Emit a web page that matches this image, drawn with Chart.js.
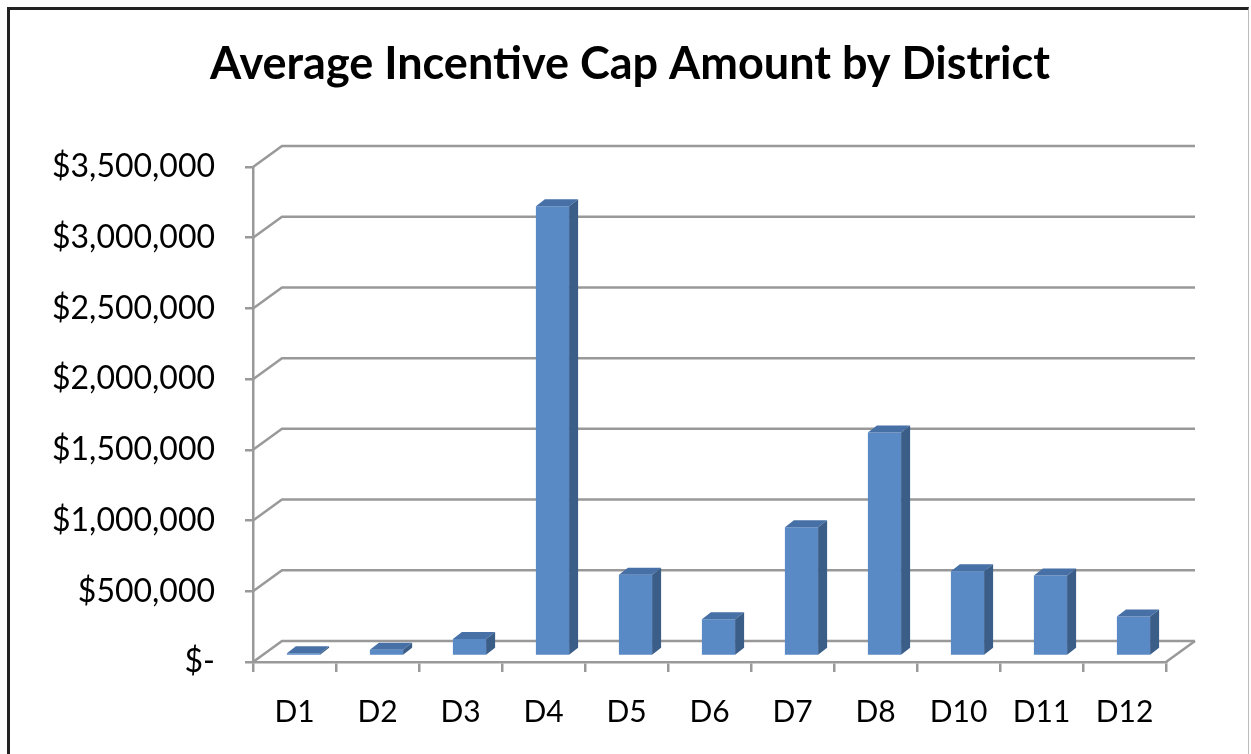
<!DOCTYPE html>
<html lang="en">
<head>
  <meta charset="UTF-8">
  <title>Average Incentive Cap Amount by District</title>
  <script src="https://cdn.jsdelivr.net/npm/chart.js"></script>
  <style>
    html, body { margin: 0; padding: 0; background: #fff; overflow: hidden; }
    #wrap { position: relative; width: 1251px; height: 754px; }
    #frame {
      position: absolute; left: 7px; top: 7px; width: 1242px; height: 760px;
      border-left: 3px solid #222; border-top: 3px solid #222; border-right: 1px solid #bbb;
      box-sizing: border-box; pointer-events: none;
    }
  </style>
</head>
<body>
  <div id="wrap">
    <canvas id="capChart" width="1251" height="754"></canvas>
    <div id="frame"></div>
  </div>

  <script>
    const districts = ['D1', 'D2', 'D3', 'D4', 'D5', 'D6', 'D7', 'D8', 'D10', 'D11', 'D12'];
    const avgCap = [20000, 45000, 120000, 3180000, 575000, 260000, 910000, 1580000, 600000, 570000, 280000];
    const yTicks = [0, 500000, 1000000, 1500000, 2000000, 2500000, 3000000, 3500000];

    // depth of the back wall and of the bars (px)
    const WALL = { dx: 29, dy: -21 };
    const BAR_OFF = { dx: 9, dy: -6 };
    const BAR_DEPTH = { dx: 9, dy: -7 };

    function money(v) {
      if (v === 0) return '$-';
      return '$' + v.toLocaleString('en-US');
    }

    const fake3d = {
      id: 'fake3d',
      beforeDatasetsDraw(chart) {
        const ctx = chart.ctx;
        const y = chart.scales.y;
        const area = chart.chartArea;
        ctx.save();
        ctx.strokeStyle = '#999';
        ctx.lineWidth = 2.5;
        yTicks.forEach(v => {
          const py = y.getPixelForValue(v);
          ctx.beginPath();
          ctx.moveTo(area.left, py);
          ctx.lineTo(area.left + WALL.dx, py + WALL.dy);
          ctx.lineTo(area.right + WALL.dx, py + WALL.dy);
          ctx.stroke();
        });
        // floor right edge
        const p0 = y.getPixelForValue(0);
        ctx.beginPath();
        ctx.moveTo(area.right, p0);
        ctx.lineTo(area.right + WALL.dx, p0 + WALL.dy);
        ctx.stroke();
        ctx.restore();

        ctx.save();
        ctx.translate(BAR_OFF.dx, BAR_OFF.dy);
      },
      afterDatasetsDraw(chart) {
        const ctx = chart.ctx;
        const bars = chart.getDatasetMeta(0).data;
        bars.forEach(b => {
          const l = b.x - b.width / 2, r = b.x + b.width / 2;
          const t = b.y, btm = b.base;
          // top face
          ctx.fillStyle = '#4670a6';
          ctx.beginPath();
          ctx.moveTo(l, t);
          ctx.lineTo(l + BAR_DEPTH.dx, t + BAR_DEPTH.dy);
          ctx.lineTo(r + BAR_DEPTH.dx, t + BAR_DEPTH.dy);
          ctx.lineTo(r, t);
          ctx.closePath();
          ctx.fill();
          // side face
          ctx.fillStyle = '#3b5e89';
          ctx.beginPath();
          ctx.moveTo(r, t);
          ctx.lineTo(r + BAR_DEPTH.dx, t + BAR_DEPTH.dy);
          ctx.lineTo(r + BAR_DEPTH.dx, btm + BAR_DEPTH.dy);
          ctx.lineTo(r, btm);
          ctx.closePath();
          ctx.fill();
        });
        ctx.restore();
      }
    };

    const ctx = document.getElementById('capChart').getContext('2d');
    new Chart(ctx, {
      type: 'bar',
      data: {
        labels: districts,
        datasets: [{
          label: 'Average Incentive Cap',
          data: avgCap,
          backgroundColor: '#5a8ac6',
          borderWidth: 0,
          categoryPercentage: 1,
          barPercentage: 0.4
        }]
      },
      options: {
        responsive: false,
        animation: false,
        events: [],
        layout: { padding: { left: 9, right: 0, top: 0, bottom: 0 } },
        plugins: {
          legend: { display: false },
          tooltip: { enabled: false },
          title: {
            display: true,
            text: 'Average Incentive Cap Amount by District',
            color: '#000',
            font: { family: 'Lato', size: 45, weight: 'bold' },
            padding: { top: 37, bottom: 76 }
          }
        },
        scales: {
          x: {
            grid: {
              offset: true,
              drawOnChartArea: false,
              tickLength: 10,
              color: '#999',
              lineWidth: 2.5
            },
            border: { color: '#999', width: 2.5 },
            ticks: {
              color: '#000',
              padding: 22,
              font: { family: 'Lato', size: 30 }
            },
            afterFit(s) { s.height = 92; }
          },
          y: {
            min: 0,
            max: 3500000,
            afterBuildTicks(s) { s.ticks = yTicks.map(v => ({ value: v })); },
            grid: {
              drawOnChartArea: false,
              tickLength: 8,
              color: '#999',
              lineWidth: 2.5
            },
            border: { color: '#999', width: 2.5 },
            ticks: {
              color: '#000',
              padding: 30,
              font: { family: 'Lato', size: 32 },
              callback: v => money(v)
            },
            afterFit(s) { s.width = 244; }
          },
          // empty right-hand spacer: leaves room for the back wall depth
          yRight: {
            position: 'right',
            min: 0,
            max: 3500000,
            grid: { display: false },
            border: { display: false },
            ticks: { display: false },
            afterFit(s) { s.width = 85; }
          }
        }
      },
      plugins: [fake3d]
    });
  </script>
</body>
</html>
